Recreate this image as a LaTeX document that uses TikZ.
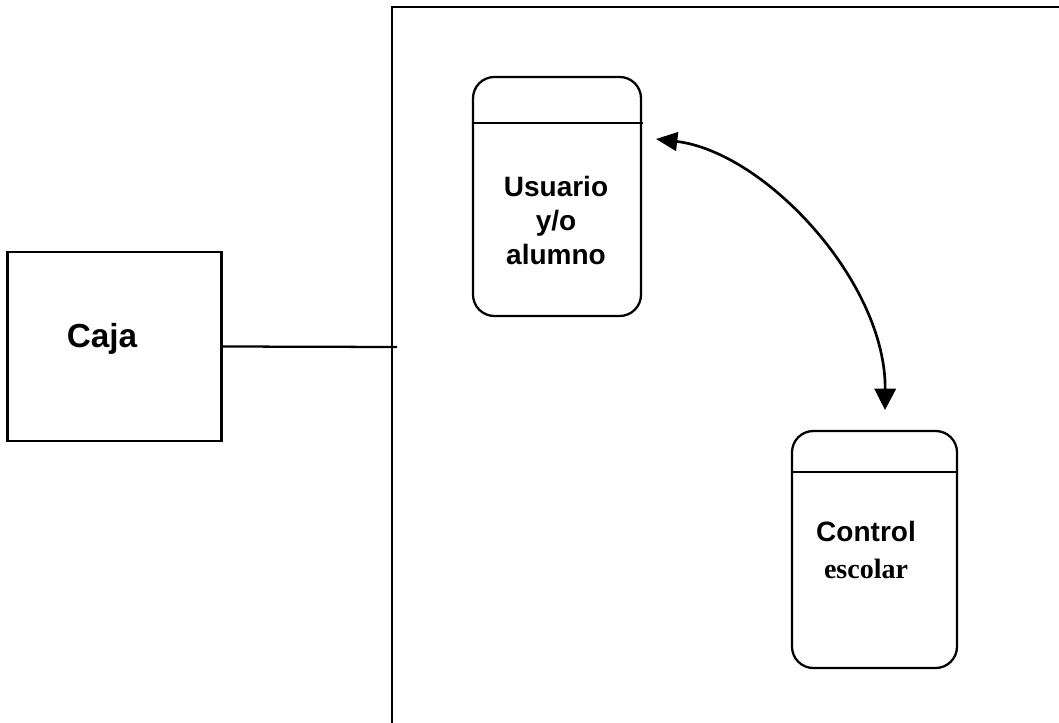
\documentclass[tikz,border=0pt]{standalone}
\usepackage{fontspec}
\setmainfont{Liberation Sans}
\newfontfamily\timesbold{Liberation Serif}[BoldFont={Liberation Serif Bold}]
\usetikzlibrary{arrows.meta}
\begin{document}
\begin{tikzpicture}[x=0.75pt,y=-0.75pt,
  line/.style={line width=1.7pt},
  box/.style={draw, line width=1.7pt, inner sep=0pt},
  store/.style={box, rounded corners=16pt},
  label/.style={font=\bfseries\fontsize{21}{25.5}\selectfont, align=center, inner sep=0pt},
  flow/.style={line width=2pt,
    {Triangle[length=16pt,width=14pt]}-{Triangle[length=16pt,width=16pt]}}
]
\useasboundingbox (0,0) rectangle (1059,723);

% system boundary
\draw[line] (392,723) -- (392,7) -- (1059,7);
\coordinate (edge) at (397,347);

% external entity
\node[box, minimum width=160.5pt, minimum height=141.75pt] (caja) at (114.5,346.5) {};
\node[font=\bfseries\fontsize{25}{30}\selectfont, anchor=base, inner sep=0pt] (cajatxt) at (102,348) {Caja};
\draw[line] (caja.east) -- (edge);

% data stores
\node[store, minimum width=126pt, minimum height=179.25pt] (usr) at (557,196.5) {};
\draw[line] (usr.west |- 0,123) -- (643,123);
\node[label] (usrtxt) at (556,220) {Usuario\\y/o\\alumno};

\node[store, minimum width=123.75pt, minimum height=177.75pt] (ctl) at (874.5,549.5) {};
\draw[line] (ctl.west |- 0,472) -- (ctl.east |- 0,472);
\node[label, font=\bfseries\fontsize{21}{27.5}\selectfont] (ctltxt) at (866,550) {Control\\{\timesbold\bfseries escolar}};

% flow between stores
\coordinate (a1) at (656,139);
\coordinate (a2) at (885,410);
\draw[flow] (a1) .. controls (765,152) and (886,282) .. (a2);
\end{tikzpicture}
\end{document}
